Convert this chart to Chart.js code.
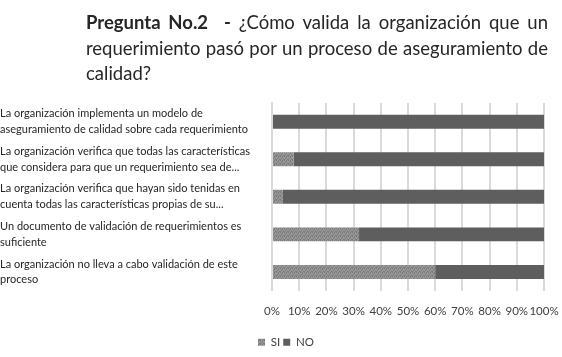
<!DOCTYPE html>
<html><head><meta charset="utf-8">
<script src="https://cdn.jsdelivr.net/npm/chart.js@4"></script>
<style>
html,body{margin:0;padding:0;background:#fff;}
#wrap{position:relative;width:562px;height:357px;}
#title{position:absolute;left:86px;top:10px;width:462px;font-family:Lato,"Open Sans",sans-serif;font-size:18.5px;line-height:25.5px;color:#262626;text-align:justify;text-align-last:left;}
#title b{font-weight:700;}
canvas{position:absolute;left:0;top:0;}
</style></head>
<body>
<div id="wrap">
<canvas id="c" width="562" height="357"></canvas>
<div id="title"><b>Pregunta No.2</b>&nbsp; <b>-</b> ¿Cómo valida la organización que un requerimiento pasó por un proceso de aseguramiento de calidad?</div>
</div>
<script>
const categories = [
  ["La organización implementa un modelo de", "aseguramiento de calidad sobre cada requerimiento"],
  ["La organización verifica que todas las características", "que considera para que un requerimiento sea de..."],
  ["La organización verifica que hayan sido tenidas en", "cuenta todas las características propias de su..."],
  ["Un documento de validación de requerimientos es", "suficiente"],
  ["La organización no lleva a cabo validación de este", "proceso"]
];
const siValues = [0, 8, 4, 32, 60];
const noValues = [100, 92, 96, 68, 40];
const xTicks = ["0%","10%","20%","30%","40%","50%","60%","70%","80%","90%","100%"];

function makePattern(){
  const p = document.createElement('canvas');
  p.width = 4; p.height = 4;
  const g = p.getContext('2d');
  g.fillStyle = '#979797'; g.fillRect(0,0,4,4);
  g.fillStyle = '#7a7a7a';
  g.fillRect(0,0,1,1); g.fillRect(2,1,1,1); g.fillRect(1,2,1,1); g.fillRect(3,3,1,1);
  g.fillRect(2,0,1,1); g.fillRect(0,3,1,1);
  return g.createPattern(p,'repeat');
}
const ctx = document.getElementById('c').getContext('2d');
const siFill = makePattern();

const legendShift = {
  id: 'legendShift',
  afterLayout(chart){
    const lg = chart.legend;
    if (lg) { lg.left -= 17; lg.right -= 17; lg.top += 1; lg.bottom += 1; }
  }
};

new Chart(ctx, {
  type: 'bar',
  data: {
    labels: categories,
    datasets: [
      {label: 'SI', data: siValues, backgroundColor: siFill, borderWidth: 0},
      {label: 'NO', data: noValues, backgroundColor: '#5e5e5e', borderWidth: 0}
    ]
  },
  plugins: [legendShift],
  options: {
    indexAxis: 'y',
    responsive: false,
    animation: false,
    layout: {padding: {top: 103, right: 3, left: 0, bottom: 0}},
    datasets: {bar: {barPercentage: 0.62, categoryPercentage: 0.6}},
    scales: {
      x: {
        stacked: true, min: 0, max: 100,
        grid: {display: true, color: '#dadada', lineWidth: 2, drawTicks: false, drawOnChartArea: true},
        border: {display: false},
        afterFit(scale){ scale.paddingRight = 18; },
        ticks: {
          stepSize: 10, padding: 14, maxRotation: 0, autoSkip: false,
          color: '#404040',
          font: {family: 'Lato', size: 11.5},
          callback: (v, i) => xTicks[i]
        }
      },
      y: {
        stacked: true,
        grid: {display: false},
        border: {display: true, color: '#dadada', width: 2},
        ticks: {
          crossAlign: 'far', padding: 7, autoSkip: false,
          color: '#262626',
          font: {family: 'Lato', size: 11, lineHeight: 1.45}
        }
      }
    },
    plugins: {
      legend: {
        position: 'bottom',
        align: 'start',
        fullSize: false,
        labels: {
          boxWidth: 7, boxHeight: 7, padding: 3,
          color: '#404040',
          font: {family: 'Lato', size: 11.5}
        }
      },
      tooltip: {enabled: false}
    }
  }
});
</script>
</body></html>
